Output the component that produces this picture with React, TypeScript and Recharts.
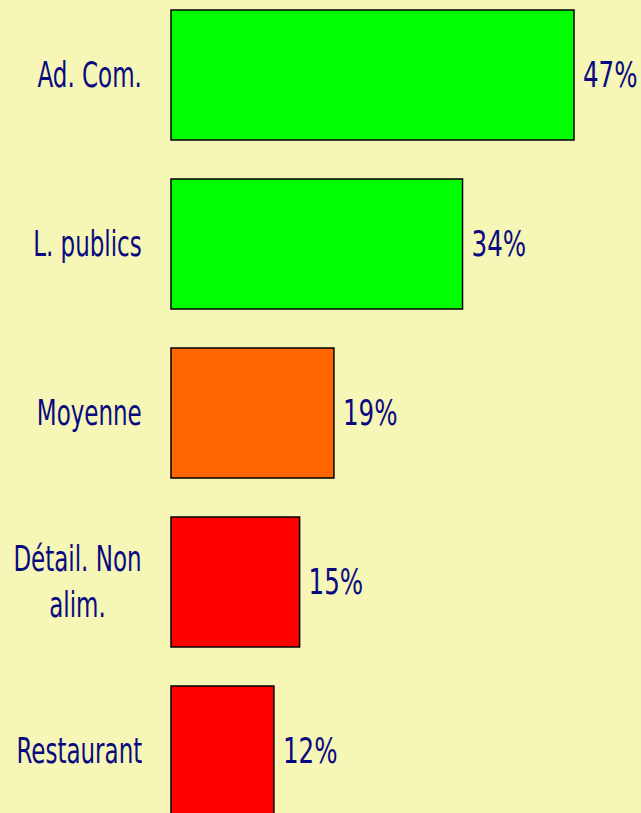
import { BarChart, Bar, XAxis, YAxis, Cell, LabelList } from 'recharts';

const categories = ['Ad. Com.', 'L. publics', 'Moyenne', 'Détail. Non alim.', 'Restaurant'];
const shares = [47, 34, 19, 15, 12];

// bar fills, same order as categories
const barColors = ['#00FF00', '#00FF00', '#FF6600', '#FF0000', '#FF0000'];

const BG = '#F6F6B6';
const INK = '#0A0A80';
const FONT = "'DejaVu Sans Condensed', 'Liberation Sans Narrow', sans-serif";

const data = categories.map((name, i) => ({ name, value: shares[i] }));

// category label: right-aligned block, lines centred inside it, squeezed to look condensed
const CategoryTick = ({ y, payload }: any) => {
  const label: string = payload.value;
  const lines = label === 'Détail. Non alim.' ? ['Détail. Non', 'alim.'] : [label];
  return (
    <foreignObject x={0} y={y - 60} width={142} height={120}>
      <div
        style={{
          width: 142,
          height: 120,
          display: 'flex',
          alignItems: 'center',
          justifyContent: 'flex-end',
        }}
      >
        <div
          style={{
            fontFamily: FONT,
            fontSize: 35,
            lineHeight: '46px',
            color: INK,
            textAlign: 'center',
            whiteSpace: 'nowrap',
            transform: 'scaleX(0.73)',
            transformOrigin: 'right center',
          }}
        >
          {lines.map((l) => (
            <div key={l}>{l}</div>
          ))}
        </div>
      </div>
    </foreignObject>
  );
};

const ValueLabel = ({ x, y, width, height, value }: any) => (
  <text
    transform={`translate(${x + width + 9}, ${y + height / 2}) scale(0.78, 1)`}
    dominantBaseline="central"
    fill={INK}
    fontFamily={FONT}
    fontSize={35}
  >
    {value}%
  </text>
);

export default function App() {
  return (
    <div
      style={{
        position: 'fixed',
        inset: 0,
        width: 641,
        height: 813,
        background: BG,
        overflow: 'hidden',
      }}
    >
      <div style={{ position: 'absolute', top: -10, left: 0 }}>
        <BarChart
          width={641}
          height={845}
          data={data}
          layout="vertical"
          margin={{ top: 0, right: 67, bottom: 0, left: 0 }}
        >
          <XAxis type="number" domain={[0, 47]} hide />
          <YAxis
            type="category"
            dataKey="name"
            width={171}
            axisLine={false}
            tickLine={false}
            tick={<CategoryTick />}
            interval={0}
          />
          <Bar dataKey="value" barSize={130} stroke="#000000" strokeWidth={1.5} isAnimationActive={false}>
            {data.map((d, i) => (
              <Cell key={d.name} fill={barColors[i]} />
            ))}
            <LabelList dataKey="value" content={<ValueLabel />} />
          </Bar>
        </BarChart>
      </div>
    </div>
  );
}
